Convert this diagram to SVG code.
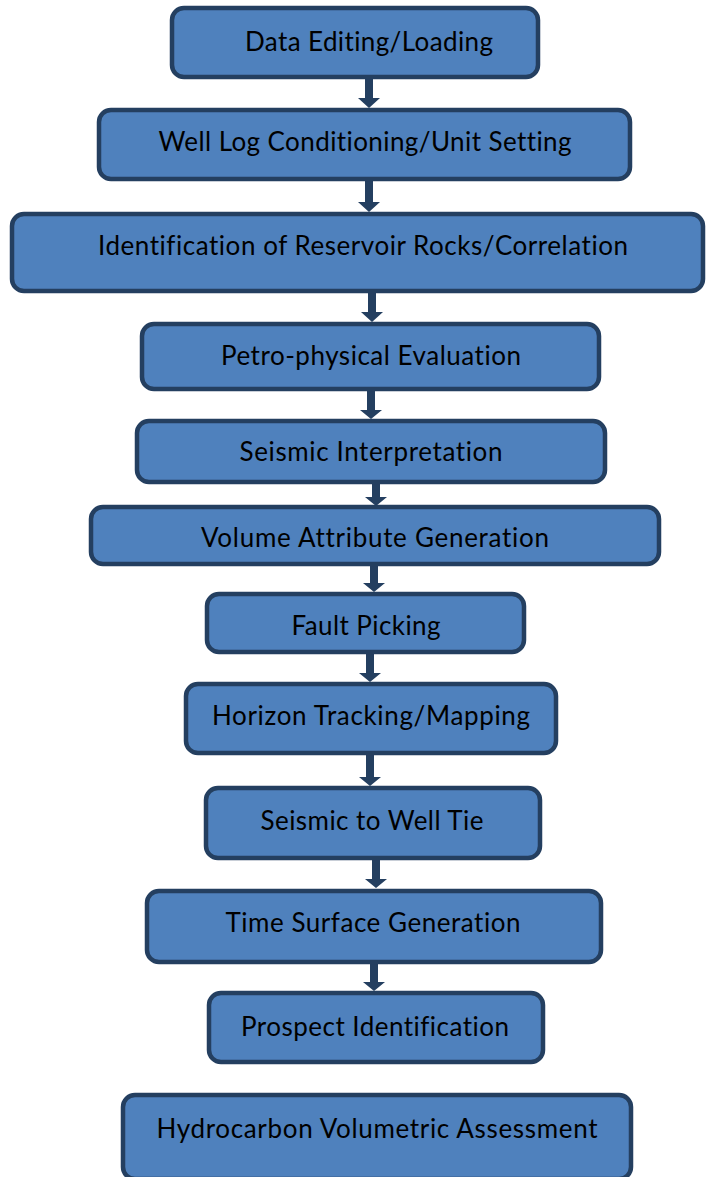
<svg xmlns="http://www.w3.org/2000/svg" width="706" height="1177" viewBox="0 0 706 1177">
<style>
.box{fill:#4F81BD;stroke:#243F60;stroke-width:4.5}
.lbl{font-family:Lato,"Liberation Sans",sans-serif;font-size:26px;fill:#000;text-anchor:middle;font-variant-ligatures:none}
.arr{fill:#243F60}
</style>
<rect width="706" height="1177" fill="#fff"/>
<g id="connectors">
<polygon class="arr" points="365,78 373,78 373,98 380,98 369,108 358,98 365,98"/>
<polygon class="arr" points="365,181 373,181 373,202 380,202 369,212 358,202 365,202"/>
<polygon class="arr" points="368,292 376,292 376,312 383,312 372,322 361,312 368,312"/>
<polygon class="arr" points="367,391 375,391 375,410 382,410 371,419 360,410 367,410"/>
<polygon class="arr" points="372,484 380,484 380,497 387,497 376,506 365,497 372,497"/>
<polygon class="arr" points="370,566 378,566 378,583 385,583 374,592 363,583 370,583"/>
<polygon class="arr" points="366,654 374,654 374,673 381,673 370,682 359,673 366,673"/>
<polygon class="arr" points="366,755 374,755 374,777 381,777 370,786 359,777 366,777"/>
<polygon class="arr" points="372,860 380,860 380,879 387,879 376,888 365,879 372,879"/>
<polygon class="arr" points="370,964 378,964 378,982 385,982 374,991 363,982 370,982"/>
</g>
<g id="n1"><rect class="box" x="172" y="8" width="366" height="69" rx="12"/><text class="lbl" x="369" y="51" textLength="248">Data Editing/Loading</text></g>
<g id="n2"><rect class="box" x="99" y="110" width="531" height="69" rx="12"/><text class="lbl" x="365" y="151" textLength="413">Well Log Conditioning/Unit Setting</text></g>
<g id="n3"><rect class="box" x="12" y="214" width="691" height="77" rx="12"/><text class="lbl" x="363" y="255" textLength="530">Identification of Reservoir Rocks/Correlation</text></g>
<g id="n4"><rect class="box" x="142" y="324" width="457" height="65" rx="12"/><text class="lbl" x="371" y="365" textLength="300">Petro-physical Evaluation</text></g>
<g id="n5"><rect class="box" x="137" y="421" width="468" height="61" rx="12"/><text class="lbl" x="371" y="461" textLength="263">Seismic Interpretation</text></g>
<g id="n6"><rect class="box" x="91" y="507" width="568" height="57" rx="12"/><text class="lbl" x="375" y="547" textLength="348">Volume Attribute Generation</text></g>
<g id="n7"><rect class="box" x="207" y="594" width="317" height="58" rx="12"/><text class="lbl" x="366" y="635" textLength="149">Fault Picking</text></g>
<g id="n8"><rect class="box" x="186" y="684" width="370" height="69" rx="12"/><text class="lbl" x="371" y="725" textLength="318">Horizon Tracking/Mapping</text></g>
<g id="n9"><rect class="box" x="206" y="788" width="334" height="70" rx="12"/><text class="lbl" x="372" y="830" textLength="223">Seismic to Well Tie</text></g>
<g id="n10"><rect class="box" x="147" y="891" width="454" height="71" rx="12"/><text class="lbl" x="373" y="932" textLength="295">Time Surface Generation</text></g>
<g id="n11"><rect class="box" x="209" y="993" width="334" height="69" rx="12"/><text class="lbl" x="375" y="1036" textLength="268">Prospect Identification</text></g>
<g id="n12"><rect class="box" x="123" y="1095" width="508" height="84" rx="12"/><text class="lbl" x="377" y="1138" textLength="441">Hydrocarbon Volumetric Assessment</text></g>
</svg>
